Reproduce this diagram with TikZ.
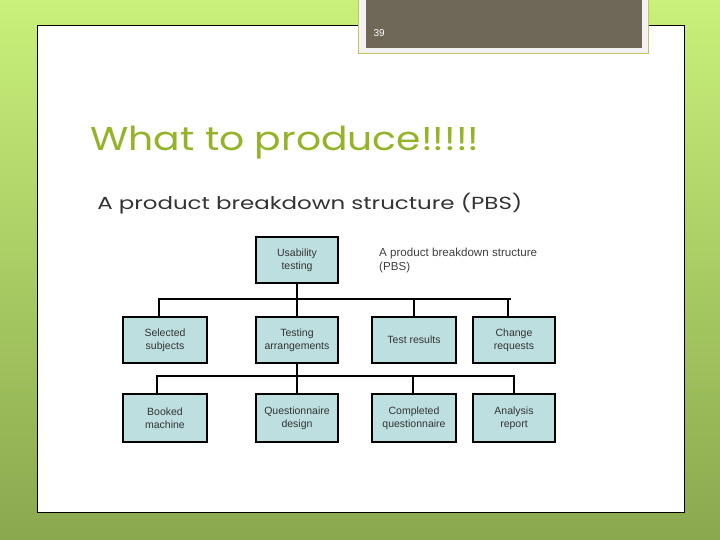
\documentclass[tikz,border=0pt]{standalone}
\usepackage{fontspec}
\setmainfont{Liberation Sans}
\newfontfamily\gothicfont{Poppins}
\usetikzlibrary{calc}
\definecolor{pbsfill}{HTML}{BEDFE0}
\definecolor{titlegreen}{HTML}{94B428}
\definecolor{tabgray}{HTML}{6F6858}
\definecolor{lightlime}{HTML}{C9F07A}
\definecolor{darkolive}{HTML}{8AA84E}
\tikzset{pbsbox/.style={rectangle, draw=black, fill=pbsfill, line width=2.2pt, minimum width=82pt, minimum height=46pt, align=center, inner sep=1pt, font=\fontsize{10.5}{12.7}\selectfont, text=black!80},
	bus/.style={line width=2pt}
}

\begin{document}
\begin{tikzpicture}[x=1pt,y=-1pt]
			\useasboundingbox (0,0) rectangle (720,540);
			% slide background
			\shade[top color=lightlime, bottom color=darkolive] (0,0) rectangle (720,540);
			\draw[fill=white, line width=1pt] (37,26) rectangle (684,512);
			% slide number tab
			\draw[draw=olive!50, fill=black!5] (358,-2) rectangle (648,53);
			\fill[tabgray] (366,-2) rectangle (642,48);
			\node[anchor=west, text=white, font=\fontsize{10}{11}\selectfont] (slideno) at (370,33) {39};
			% titles
			\node[anchor=base west, inner sep=0pt, xscale=1.19, transform shape, text=titlegreen, font=\gothicfont\fontsize{33}{36}\selectfont] (title) at (90,151) {What to produce!!!!!};
			\node[anchor=base west, inner sep=0pt, xscale=1.31, transform shape, text=black!80, font=\gothicfont\fontsize{17.5}{20}\selectfont] (subtitle) at (97,210) {A product breakdown structure (PBS)};
			% PBS boxes
			\node[pbsbox] (usability) at (297,260) {Usability\\testing};
			\node[pbsbox, minimum width=84pt] (selected) at (165,340) {Selected\\subjects};
			\node[pbsbox] (arrangements) at (297,340) {Testing\\arrangements};
			\node[pbsbox, minimum width=84pt] (results) at (414,340) {Test results};
			\node[pbsbox] (requests) at (514,340) {Change\\requests};
			\node[pbsbox, minimum width=84pt, minimum height=48pt] (booked) at (165,418) {Booked\\machine};
			\node[pbsbox, minimum height=48pt] (design) at (297,418) {Questionnaire\\design};
			\node[pbsbox, minimum width=84pt, minimum height=48pt] (completed) at (414,418) {Completed\\questionnaire};
			\node[pbsbox, minimum height=48pt] (report) at (514,418) {Analysis\\report};
			\node[anchor=north west, align=left, inner sep=0pt, font=\fontsize{11.6}{14}\selectfont, text=black!75] (caption) at (379,248) {A product breakdown structure\\ (PBS)};
			% connectors
			\coordinate (bus1) at (296,299);
			\coordinate (bus2) at (296,376);
			\draw[bus] (usability.south) -- (arrangements.north);
			\draw[bus] ([xshift=-6pt]selected.north) |- ([xshift=-3pt]requests.north |- bus1);
			\draw[bus] (results.north) -- (results.north |- bus1);
			\draw[bus] ([xshift=-6pt]requests.north) -- ([xshift=-6pt]requests.north |- bus1);
			\draw[bus] (arrangements.south) -- (design.north);
			\draw[bus] ([xshift=-8pt]booked.north) |- (report.north |- bus2) -- (report.north);
			\draw[bus] ([xshift=-1pt]completed.north) -- ([xshift=-1pt]completed.north |- bus2);
		\end{tikzpicture}
\end{document}
